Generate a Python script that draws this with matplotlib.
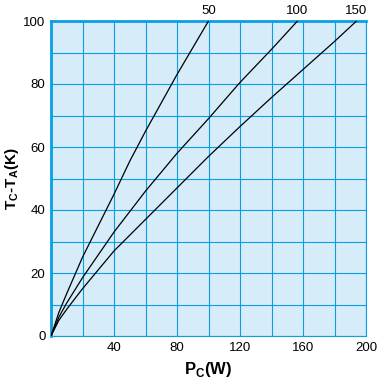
import numpy as np
import matplotlib
matplotlib.use("Agg")
import matplotlib.pyplot as plt

plt.rcParams['font.family'] = ['Liberation Sans', 'DejaVu Sans']
plt.rcParams['mathtext.fontset'] = 'custom'
plt.rcParams['mathtext.rm'] = 'Liberation Sans'

# curves: Pc (W) -> Tc-Ta (K)
x50 = [0, 5, 10, 20, 30, 40, 50, 60, 70, 80, 90, 100]
y50 = [0, 7.5, 13.5, 25, 35, 45, 55.5, 65, 74, 83, 91.5, 100]

x100 = [0, 5, 10, 20, 40, 60, 80, 100, 120, 140, 156.5]
y100 = [0, 6, 10.5, 18.5, 33, 46, 58, 69, 80.5, 91, 100]

x150 = [0, 5, 10, 20, 40, 60, 80, 100, 120, 140, 160, 180, 194]
y150 = [0, 5, 8.5, 15, 27, 37, 47, 57, 66.5, 75.7, 84.6, 93.5, 100]

curve_names = ["50", "100", "150"]
xticklabels = ["", "", "40", "", "80", "", "120", "", "160", "", "200"]
yticklabels = ["0", "", "20", "", "40", "", "60", "", "80", "", "100"]

bg = '#d6ecf9'
grid = '#0a9fe3'

fig = plt.figure(figsize=(3.89, 3.82), dpi=100)
ax = fig.add_axes([51/389, 46/382, 315/389, 315/382])
ax.set_facecolor(bg)

for xs, ys, name in zip([x50, x100, x150], [y50, y100, y150], curve_names):
    ax.plot(xs, ys, color='black', lw=0.9, zorder=3)
    ax.annotate(name, (xs[-1], ys[-1]), xytext=(0, 3), textcoords='offset points',
                ha='center', va='bottom', fontsize=9.5, annotation_clip=False)

ax.set_xlim(0, 200)
ax.set_ylim(0, 100)
ax.set_xticks(np.arange(0, 201, 20))
ax.set_yticks(np.arange(0, 101, 10))
ax.set_xticklabels(xticklabels, fontsize=9.5)
ax.set_yticklabels(yticklabels, fontsize=9.5)
ax.tick_params(length=0, pad=4)
ax.grid(True, color=grid, lw=0.8)
ax.set_axisbelow(True)

for side in ['bottom', 'right']:
    ax.spines[side].set_color(grid)
    ax.spines[side].set_linewidth(0.8)
for side in ['top', 'left']:
    ax.spines[side].set_color(grid)
    ax.spines[side].set_linewidth(2.0)

ax.set_xlabel(r'P$_\mathregular{C}$(W)', fontsize=12, fontweight='bold')
ax.set_ylabel(r'T$_\mathregular{C}$-T$_\mathregular{A}$(K)', fontsize=11, fontweight='bold')
ax.xaxis.set_label_coords(0.5, -0.075)
ax.yaxis.set_label_coords(-0.095, 0.5)

fig.savefig('out.png', dpi=100)
